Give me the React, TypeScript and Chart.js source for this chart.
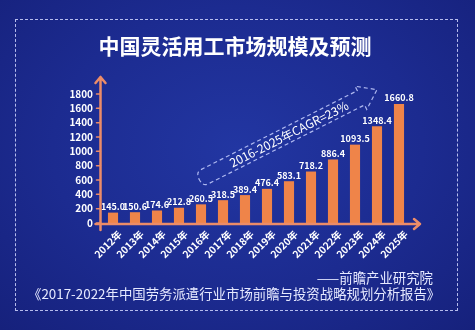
import React, { useEffect, useRef } from "react";
import { Chart, registerables } from "chart.js";

Chart.register(...registerables);

const title = "中国灵活用工市场规模及预测";
const years = ["2012年", "2013年", "2014年", "2015年", "2016年", "2017年", "2018年", "2019年", "2020年", "2021年", "2022年", "2023年", "2024年", "2025年"];
const marketSize = [145.0, 150.6, 174.6, 212.8, 260.5, 318.5, 389.4, 476.4, 583.1, 718.2, 886.4, 1093.5, 1348.4, 1660.8];
const yMax = 1800;
const yStep = 200;
const cagrLabel = "2016-2025年CAGR=23%";
const sourceLine = "——前瞻产业研究院";
const reportLine = "《2017-2022年中国劳务派遣行业市场前瞻与投资战略规划分析报告》";

const FONT = '"Noto Sans CJK SC", "Noto Sans", sans-serif';
const NARROW = '"Liberation Sans Narrow", "Noto Sans CJK SC", sans-serif';
const BAR = "#ef8449";
const AXIS = "#ec8c68";

const decorPlugin = {
  id: "decor",
  afterDatasetsDraw(chart: any) {
    const ctx = chart.ctx;
    const xs = chart.scales.x;
    const ys = chart.scales.y;
    const area = chart.chartArea;
    // value labels
    const meta = chart.getDatasetMeta(0);
    ctx.save();
    ctx.fillStyle = "#ffffff";
    ctx.font = `bold 9px ${NARROW}`;
    ctx.textAlign = "center";
    ctx.textBaseline = "bottom";
    meta.data.forEach((bar: any, i: number) => {
      ctx.fillText(marketSize[i].toFixed(1), bar.x, bar.y - 1.5);
    });
    ctx.restore();

    // axes with arrows
    const ax = area.left - 1.5;
    const ay = area.bottom + 1;
    ctx.save();
    ctx.strokeStyle = AXIS;
    ctx.lineWidth = 2.5;
    ctx.lineCap = "round";
    ctx.lineJoin = "round";
    ctx.beginPath();
    ctx.moveTo(ax, ay + 6);
    ctx.lineTo(ax, area.top - 17);
    ctx.moveTo(ax - 5, area.top - 11);
    ctx.lineTo(ax, area.top - 17);
    ctx.lineTo(ax + 5, area.top - 11);
    ctx.moveTo(ax - 5, ay);
    ctx.lineTo(area.right + 10, ay);
    ctx.moveTo(area.right + 4, ay - 5);
    ctx.lineTo(area.right + 10, ay);
    ctx.lineTo(area.right + 4, ay + 5);
    ctx.stroke();
    // y tick marks
    ctx.lineWidth = 1.5;
    ctx.beginPath();
    for (let v = 0; v <= yMax; v += yStep) {
      const py = ys.getPixelForValue(v);
      ctx.moveTo(ax - 4, py);
      ctx.lineTo(ax, py);
    }
    ctx.stroke();
    ctx.restore();

    // CAGR dashed arrow
    const sx = xs.getPixelForValue(4);
    const sy = ys.getPixelForValue(620);
    const tx = xs.getPixelForValue(12);
    const ty = ys.getPixelForValue(1860);
    const L = Math.hypot(tx - sx, ty - sy);
    const ang = Math.atan2(ty - sy, tx - sx);
    ctx.save();
    ctx.translate(sx, sy);
    ctx.rotate(ang);
    ctx.strokeStyle = "rgba(200,208,255,0.85)";
    ctx.lineWidth = 1.2;
    ctx.setLineDash([4, 3]);
    const hw = 8;
    const hh = 13;
    const hl = 18;
    ctx.beginPath();
    ctx.moveTo(4, -hw);
    ctx.lineTo(L - hl, -hw);
    ctx.lineTo(L - hl, -hh);
    ctx.lineTo(L, 0);
    ctx.lineTo(L - hl, hh);
    ctx.lineTo(L - hl, hw);
    ctx.lineTo(4, hw);
    ctx.quadraticCurveTo(-2, hw, -2, 0);
    ctx.quadraticCurveTo(-2, -hw, 4, -hw);
    ctx.stroke();
    ctx.setLineDash([]);
    ctx.fillStyle = "#ffffff";
    ctx.font = `12px ${FONT}`;
    ctx.textAlign = "center";
    ctx.textBaseline = "middle";
    ctx.fillText(cagrLabel, L * 0.5, 0);
    ctx.restore();
  },
};

export default function App() {
  const canvasRef = useRef<HTMLCanvasElement | null>(null);

  useEffect(() => {
    if (!canvasRef.current) return;
    const chart = new Chart(canvasRef.current, {
      type: "bar",
      data: {
        labels: years,
        datasets: [
          {
            data: marketSize,
            backgroundColor: BAR,
            borderWidth: 0,
            categoryPercentage: 1,
            barPercentage: 0.46,
          },
        ],
      },
      options: {
        responsive: false,
        animation: false,
        layout: { padding: { top: 94, right: 65, left: 0, bottom: 0 } },
        plugins: { legend: { display: false }, tooltip: { enabled: false }, title: { display: false } },
        scales: {
          x: {
            grid: { display: false, drawTicks: false },
            border: { display: false },
            afterFit: (s: any) => {
              s.height = 107;
            },
            ticks: {
              color: "#ffffff",
              font: { family: FONT, size: 10, weight: "bold" },
              minRotation: 45,
              maxRotation: 45,
              autoSkip: false,
              padding: 5,
              labelOffset: 7,
            },
          },
          y: {
            min: 0,
            max: yMax,
            grid: { display: false, drawTicks: false },
            border: { display: false },
            afterFit: (s: any) => {
              s.width = 102;
            },
            ticks: {
              stepSize: yStep,
              autoSkip: false,
              color: "#ffffff",
              font: { family: FONT, size: 10, weight: "bold" },
              padding: 9,
              callback: (v: any) => String(v),
            },
          },
        },
      },
      plugins: [decorPlugin],
    } as any);
    return () => chart.destroy();
  }, []);

  return (
    <div
      style={{
        position: "fixed",
        left: 0,
        top: 0,
        width: 475,
        height: 330,
        overflow: "hidden",
        background: "radial-gradient(ellipse at 50% 45%, #2236a2 0%, #1c2b90 55%, #16217c 100%)",
        fontFamily: FONT,
      }}
    >
      <div
        style={{
          position: "absolute",
          left: 15,
          top: 19,
          width: 443,
          height: 292,
          border: "1px dashed rgba(210,215,255,0.85)",
          boxSizing: "border-box",
        }}
      />
      <div
        style={{
          position: "absolute",
          left: 0,
          width: 470,
          top: 31,
          textAlign: "center",
          color: "#ffffff",
          fontSize: 21,
          fontWeight: 700,
          lineHeight: "28px",
        }}
      >
        {title}
      </div>
      <canvas ref={canvasRef} width={475} height={330} style={{ position: "absolute", left: 0, top: 0 }} />
      <div
        style={{
          position: "absolute",
          right: 42,
          top: 268,
          color: "#e6e9ff",
          fontSize: 13.4,
          lineHeight: "18px",
          whiteSpace: "nowrap",
        }}
      >
        {sourceLine}
      </div>
      <div
        style={{
          position: "absolute",
          left: 28,
          top: 284,
          color: "#e6e9ff",
          fontSize: 13.4,
          lineHeight: "18px",
          whiteSpace: "nowrap",
        }}
      >
        {reportLine}
      </div>
    </div>
  );
}
